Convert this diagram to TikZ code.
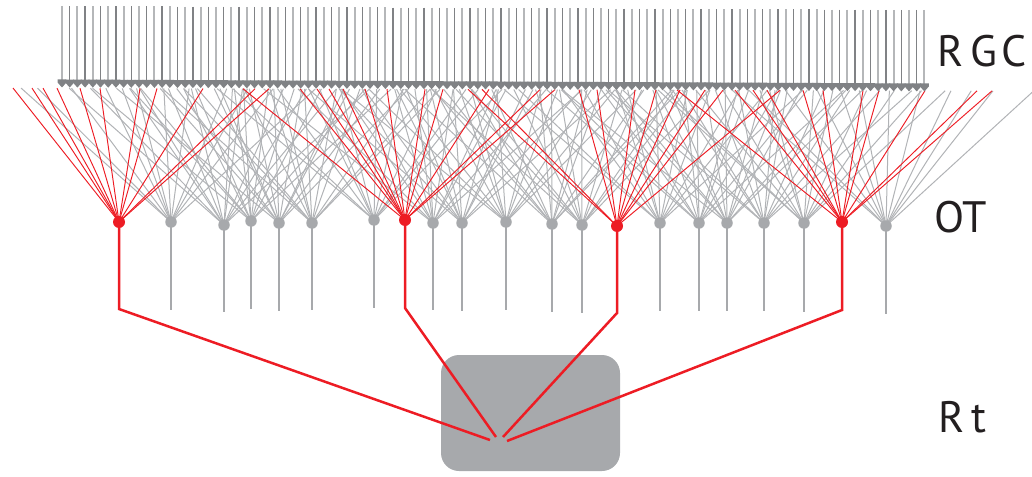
\documentclass[tikz,border=0pt]{standalone}
\usepackage{fontspec}
\setmainfont{PT Sans}
\definecolor{redax}{HTML}{ED1C24}
\definecolor{neurgray}{HTML}{A7A9AC}
\definecolor{fangray}{HTML}{B1B3B6}
\definecolor{rgcdark}{HTML}{808285}
\definecolor{rgclight}{HTML}{B5B7B9}
\definecolor{labelink}{HTML}{231F20}
\tikzset{
  fan/.style={draw=fangray, line width=1pt},
  redfan/.style={draw=redax, line width=0.95pt},
  axon/.style={draw=neurgray, line width=2.5pt},
  redaxon/.style={draw=redax, line width=2.5pt, line join=miter},
  soma/.style={circle, fill=neurgray, minimum size=11.5pt, inner sep=0pt},
  redsoma/.style={circle, fill=redax, minimum size=12pt, inner sep=0pt},
  rgcdarkline/.style={draw=rgcdark, line width=1.3pt},
  rgclightline/.style={draw=rgclight, line width=2pt},
  terminal/.style={fill=rgcdark},
  layerlabel/.style={text=labelink, font=\fontsize{44}{44}\selectfont, inner sep=0pt},
  tectbox/.style={fill=neurgray, rounded corners=18pt, inner sep=0pt,
    minimum width=179pt, minimum height=116pt}
}
% red tectal cell: name, x, soma y, axon bend y, end x, end y, input x list
\newcommand\redcell[7]{%
  \coordinate (#1) at (#2,#3);
  \coordinate (#1b) at (#2,#4);
  \coordinate (#1e) at (#5,#6);
  \foreach \t [count=\k] in {#7}{%
    \pgfmathsetmacro\ty{88+3*\t/1032}
    \coordinate (#1t\k) at (\t,\ty);
    \draw[redfan] (#1) -- (#1t\k);
  }
  \draw[redaxon] (#1) -- (#1b) -- (#1e);
  \node[redsoma] (#1s) at (#1) {};
}
\begin{document}
\begin{tikzpicture}[x=1pt,y=-1pt]
\useasboundingbox (0,0) rectangle (1032,476);
\clip (0,0) rectangle (1032,476);

% Rt target
\node[tectbox] (rt) at (530.5,413) {};

% grey OT cells: x / soma y / axon end y
\def\graycells{171/222/310, 224/225/312, 251/221/309, 279/223/311,
  312/223/310, 374/220/308, 433/223/310, 462/223/311, 506/222/310,
  552/224/312, 582/225/313, 660/223/311, 699/223/311, 727/223/311,
  764/223/311, 804/223/312, 886/226/314}
\pgfmathsetseed{17}
\foreach \x/\y/\e [count=\i] in \graycells {
  \coordinate (g\i) at (\x,\y);
  \coordinate (ga\i) at (\x,\e);
  \foreach \o [count=\k] in {-158,-130,-103,-76,-50,-24,2,28,55,82,110,138} {
    \pgfmathsetmacro\tx{\x+\o+24*rnd-12}
    \pgfmathsetmacro\ty{88+3*\tx/1032}
    \coordinate (gt\i-\k) at (\tx,\ty);
    \draw[fan] (g\i) -- (gt\i-\k);
  }
}
\foreach \x/\y/\e [count=\i] in \graycells {
  \draw[axon] (g\i) -- (ga\i);
  \node[soma] (gs\i) at (g\i) {};
}

% red OT cells projecting to Rt
\redcell{ra}{119}{222}{309}{490}{440}{13,32,43,57,80,100,140,157,203,255,269}
\redcell{rb}{405}{220}{308}{496}{437}{243,300,317,329,343,365,387,425,443,489,540,555}
\redcell{rc}{617}{226}{313}{503}{437}{468,482,579,597,635,656,680,705,723,780}
\redcell{rd}{842}{222}{310}{507}{441}{677,735,753,767,803,823,863,879,925,977,992}

% RGC axons with terminals
\foreach \i in {0,...,112} {
  \pgfmathsetmacro\rx{62+\i*7.7}
  \pgfmathsetmacro\ryt{6+4*\i/112}
  \pgfmathsetmacro\ryb{81+4*\i/112}
  \coordinate (r\i) at (\rx,\ryt);
  \coordinate (rb\i) at (\rx,\ryb);
  \pgfmathparse{int(mod(\i,2))}
  \ifnum\pgfmathresult=0
    \draw[rgclightline] (r\i) -- (rb\i);
  \else
    \draw[rgcdarkline] (r\i) -- (rb\i);
  \fi
  \fill[terminal] ([xshift=-4.4pt,yshift=1.5pt]rb\i) -- ([xshift=4.4pt,yshift=1.5pt]rb\i)
    -- ([xshift=4.4pt,yshift=-1.5pt]rb\i) -- ([yshift=-6.5pt]rb\i)
    -- ([xshift=-4.4pt,yshift=-1.5pt]rb\i) -- cycle;
}

% layer labels
\node[layerlabel] (lrgc) at (982,51.5) {R\kern7pt G\kern4pt C};
\node[layerlabel] (lot) at (960.5,217) {OT};
\node[layerlabel] (lrt) at (962.5,417.5) {R\kern6pt t};
\end{tikzpicture}
\end{document}
